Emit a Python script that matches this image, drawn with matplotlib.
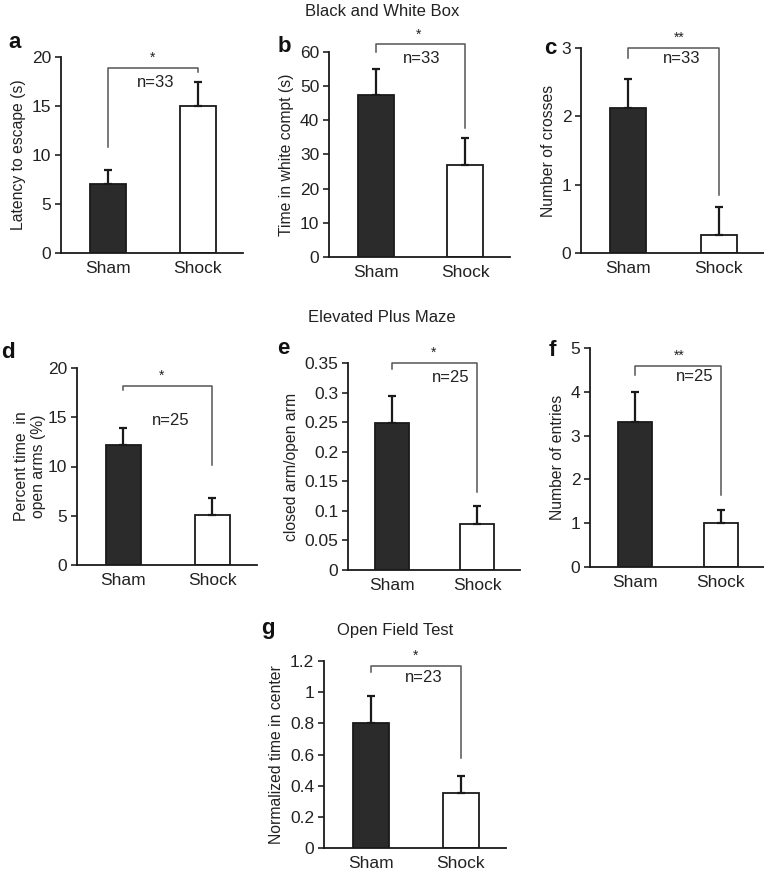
import numpy as np
import matplotlib
matplotlib.use("Agg")
import matplotlib.pyplot as plt

plt.rcParams['font.family'] = ['Liberation Sans', 'DejaVu Sans']

#===========================================
# data (mean, upward s.e.m.)
groups = ["Sham", "Shock"]

latency_mean = [7.0, 15.0]
latency_err = [1.5, 2.4]

white_mean = [47.5, 27.0]
white_err = [7.5, 7.7]

crosses_mean = [2.12, 0.27]
crosses_err = [0.43, 0.40]

open_arms_mean = [12.2, 5.1]
open_arms_err = [1.75, 1.75]

arm_ratio_mean = [0.248, 0.077]
arm_ratio_err = [0.047, 0.031]

entries_mean = [3.3, 1.0]
entries_err = [0.7, 0.3]

center_mean = [0.805, 0.35]
center_err = [0.17, 0.11]

n_labels = ["n=33", "n=33", "n=33", "n=25", "n=25", "n=25", "n=23"]
stars = ["*", "*", "**", "*", "*", "**", "*"]

# bracket: top, left leg end, right leg end (data units)
brackets = [
    (18.9, 10.8, 18.5),
    (62.3, 60.0, 37.8),
    (3.0, 2.85, 0.85),
    (18.2, 17.8, 10.2),
    (0.35, 0.34, 0.132),
    (4.59, 4.38, 1.64),
    (1.168, 1.13, 0.578),
]

W, H = 764, 872

#===========================================
# panel layout in pixels: left, right, top, bottom
panels = [
    dict(box=(61, 243, 57, 253), mean=latency_mean, err=latency_err,
         ylim=20, ticks=[0, 5, 10, 15, 20], ylabel="Latency to escape (s)",
         letter="a", lpos=(15, 43), star_x=0.5, n_xy=(0.53, 17.4), pad=4),
    dict(box=(329, 510, 52, 257), mean=white_mean, err=white_err,
         ylim=60, ticks=[0, 10, 20, 30, 40, 50, 60], ylabel="Time in white compt (s)",
         letter="b", lpos=(284, 46), star_x=0.48, n_xy=(0.51, 58.2), pad=4),
    dict(box=(581, 764, 48, 253), mean=crosses_mean, err=crosses_err,
         ylim=3, ticks=[0, 1, 2, 3], ylabel="Number of crosses",
         letter="c", lpos=(550, 49), star_x=0.56, n_xy=(0.59, 2.85), pad=4),
    dict(box=(77, 257, 368, 565), mean=open_arms_mean, err=open_arms_err,
         ylim=20, ticks=[0, 5, 10, 15, 20], ylabel="Percent time  in\nopen arms (%)",
         letter="d", lpos=(8, 352), star_x=0.43, n_xy=(0.53, 14.7), pad=1),
    dict(box=(348, 520, 363, 570), mean=arm_ratio_mean, err=arm_ratio_err,
         ylim=0.35, ticks=[0, 0.05, 0.1, 0.15, 0.2, 0.25, 0.3, 0.35],
         ylabel="closed arm/open arm",
         letter="e", lpos=(283, 348), star_x=0.48, n_xy=(0.69, 0.326), pad=4),
    dict(box=(590, 764, 348, 567), mean=entries_mean, err=entries_err,
         ylim=5, ticks=[0, 1, 2, 3, 4, 5], ylabel="Number of entries",
         letter="f", lpos=(552, 350), star_x=0.51, n_xy=(0.70, 4.34), pad=4),
    dict(box=(324, 506, 661, 848), mean=center_mean, err=center_err,
         ylim=1.2, ticks=[0, 0.2, 0.4, 0.6, 0.8, 1.0, 1.2],
         ylabel="Normalized time in center",
         letter="g", lpos=(268, 628), star_x=0.5, n_xy=(0.59, 1.097), pad=4),
]

fig = plt.figure(figsize=(W / 100, H / 100), dpi=100)
fig.patch.set_facecolor("white")

x = np.arange(len(groups))
bar_colors = ["#2b2b2b", "white"]
edge = "#1a1a1a"
txt = "#222222"
gray = "#555555"

for i, p in enumerate(panels):
    l, r, t, b = p["box"]
    ax = fig.add_axes([l / W, 1 - b / H, (r - l) / W, (b - t) / H])
    ax.bar(x, p["mean"], width=0.4, color=bar_colors, edgecolor=edge,
           linewidth=1.3, zorder=2)
    ax.errorbar(x, p["mean"], yerr=[[0, 0], p["err"]], fmt="none",
                ecolor=edge, elinewidth=1.6, capsize=3, capthick=1.6, zorder=3)
    ax.set_xlim(-0.52, 1.5)
    ax.set_ylim(0, p["ylim"])
    ax.set_yticks(p["ticks"])
    ax.set_yticklabels(["%g" % v for v in p["ticks"]])
    ax.set_xticks(x)
    ax.set_xticklabels(groups)
    ax.tick_params(axis="x", length=0, labelsize=12.5, colors=txt, pad=6)
    ax.tick_params(axis="y", length=4, width=1.2, labelsize=12.5, colors=txt,
                   direction="out", pad=3)
    for s in ["top", "right"]:
        ax.spines[s].set_visible(False)
    for s in ["left", "bottom"]:
        ax.spines[s].set_linewidth(1.3)
        ax.spines[s].set_color(edge)
    ax.set_ylabel(p["ylabel"], fontsize=11.3, color=txt, labelpad=p["pad"],
                  linespacing=1.2)

    # significance bracket
    top, lft, rgt = brackets[i]
    ax.plot([0, 0, 1, 1], [lft, top, top, rgt], color=gray, lw=1.1,
            clip_on=False, zorder=4)
    ax.annotate(stars[i], (p["star_x"], top), xytext=(0, 2),
                textcoords="offset points", ha="center", va="bottom",
                fontsize=10, color=txt, annotation_clip=False)
    ax.text(p["n_xy"][0], p["n_xy"][1], n_labels[i], ha="center", va="center",
            fontsize=12, color=txt)

    fig.text(p["lpos"][0] / W, 1 - p["lpos"][1] / H, p["letter"],
             fontsize=16, fontweight="bold", ha="center", va="center",
             color="#111111")

fig.text(382 / W, 1 - 11 / H, "Black and White Box", ha="center", va="center",
         fontsize=12, color=txt)
fig.text(382 / W, 1 - 318 / H, "Elevated Plus Maze", ha="center", va="center",
         fontsize=12, color=txt)
fig.text(395 / W, 1 - 630 / H, "Open Field Test", ha="center", va="center",
         fontsize=12, color=txt)

fig.savefig("out.png", dpi=100, facecolor="white")
